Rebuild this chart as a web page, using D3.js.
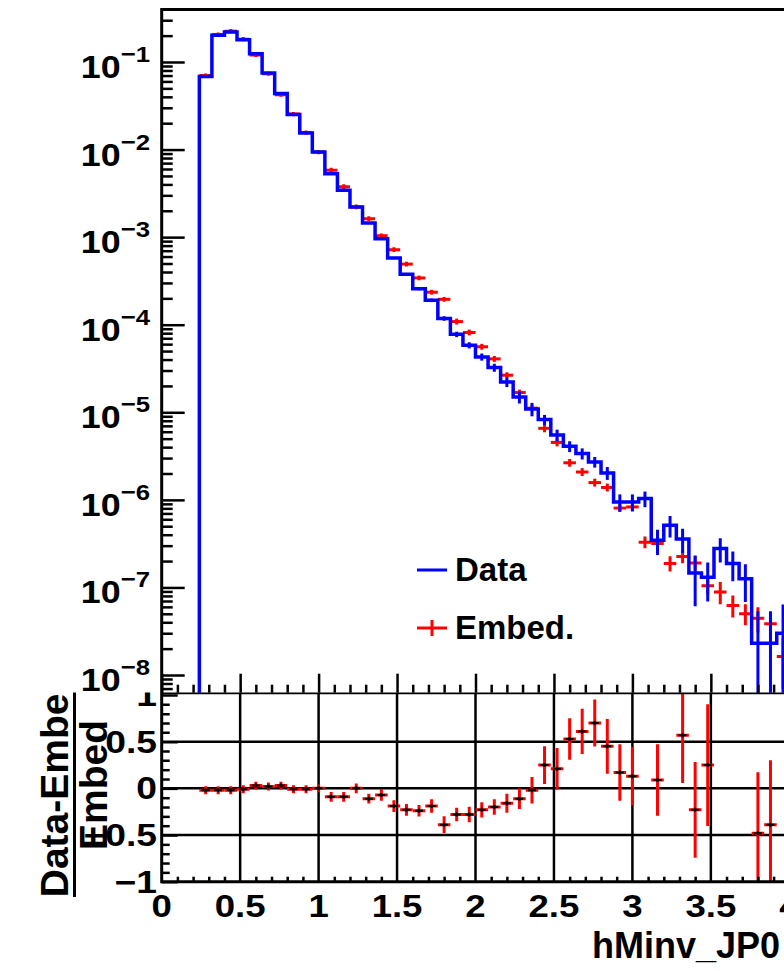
<!DOCTYPE html>
<html>
<head>
<meta charset="utf-8">
<script src="https://cdn.jsdelivr.net/npm/d3@7"></script>
<style>
  html, body { margin: 0; padding: 0; background: #fff; overflow: hidden; }
  text { font-family: "Liberation Sans", Arial, Helvetica, sans-serif; font-weight: bold; fill: #000; }
</style>
</head>
<body>
<svg id="chart" width="784" height="971"></svg>
<script>
// Invariant-mass histogram binning: 0.08 wide bins, first filled bin starts at 0.24
const binStart = 0.24;
const binWidth = 0.08;

// Data (blue step histogram), per bin
const dataVals = [
  0.0685, 0.2017, 0.2203, 0.180, 0.1245, 0.0749, 0.0436, 0.0251, 0.01543, 0.00936,
  0.00529, 0.00343, 0.00221, 0.001446, 0.00096, 5.79e-4, 3.77e-4, 2.58e-4, 1.90e-4, 1.18e-4,
  7.77e-5, 5.83e-5, 4.29e-5, 3.24e-5, 2.22e-5, 1.49e-5, 1.09e-5, 8.25e-6, 5.50e-6, 4.09e-6,
  3.38e-6, 2.71e-6, 2.03e-6, 9.44e-7, 9.44e-7, 1.034e-6, 3.45e-7, 5.14e-7, 3.57e-7, 1.46e-7,
  1.31e-7, 2.78e-7, 1.88e-7, 1.26e-7, 2.31e-8, 2.31e-8, 2.99e-8
];
const dataErr = [
  4e-4, 7e-4, 7e-4, 6e-4, 5e-4, 4e-4, 3e-4, 2e-4, 1.4e-4, 1e-4,
  5.7e-5, 4.2e-5, 3.2e-5, 2.6e-5, 2.0e-5, 1.5e-5, 1.3e-5, 1.07e-5, 8.9e-6, 7e-6,
  5.5e-6, 4.7e-6, 4.0e-6, 3.4e-6, 2.8e-6, 2.3e-6, 1.9e-6, 1.08e-6, 8.3e-7, 5.8e-7,
  4.9e-7, 3.75e-7, 3.4e-7, 2.1e-7, 2.1e-7, 2.1e-7, 1.1e-7, 1.42e-7, 1.1e-7, 8.5e-8,
  6.2e-8, 8.6e-8, 7e-8, 5.8e-8, 3.05e-8, 3.05e-8, 3.4e-8
];

// Embedding (red points with error bars), per bin
const embedVals = [
  0.0699, 0.2059, 0.2245, 0.1821, 0.1204, 0.0734, 0.0423, 0.0254, 0.01563, 0.00936,
  0.00582, 0.00377, 0.00221, 0.001625, 0.001034, 7.18e-4, 4.92e-4, 3.42e-4, 2.35e-4, 1.95e-4,
  1.086e-4, 8.15e-5, 5.60e-5, 4.07e-5, 2.65e-5, 1.68e-5, 1.115e-5, 6.56e-6, 4.53e-6, 2.65e-6,
  2.08e-6, 1.575e-6, 1.385e-6, 8.05e-7, 8.30e-7, 3.29e-7, 3.17e-7, 1.88e-7, 2.26e-7, 1.90e-7,
  1.044e-7, 8.87e-8, 6.23e-8, 4.99e-8, 4.45e-8, 3.84e-8, 1.63e-8
];
const embedErr = [
  2e-4, 6e-4, 7e-4, 5e-4, 4e-4, 2e-4, 1.3e-4, 8e-5, 5e-5, 3e-5,
  5.7e-5, 3.8e-5, 2.2e-5, 1.66e-5, 1.0e-5, 7.3e-6, 5e-6, 3.4e-6, 2.3e-6, 1.95e-6,
  2.7e-6, 2.0e-6, 1.38e-6, 1.03e-6, 6.8e-7, 4.2e-7, 2.8e-7, 3.3e-7, 2.3e-7, 1.3e-7,
  1.06e-7, 8.1e-8, 7.2e-8, 4.0e-8, 4.1e-8, 3.3e-8, 3.1e-8, 2.8e-8, 2.7e-8, 2.5e-8,
  1.7e-8, 2.1e-8, 1.45e-8, 1.1e-8, 1.2e-8, 1.1e-8, 9e-9
];

// (Data - Embed)/Embed, per bin (null where no point falls inside the panel)
const ratioVals = [
  -0.02, -0.02, -0.02, -0.01, 0.03, 0.02, 0.03, -0.01, -0.01, 0.00,
  -0.09, -0.09, 0.00, -0.11, -0.07, -0.19, -0.23, -0.24, -0.19, -0.39,
  -0.28, -0.28, -0.23, -0.20, -0.16, -0.11, -0.02, 0.25, 0.21, 0.53,
  0.61, 0.70, 0.45, 0.17, 0.13, null, 0.09, null, 0.57, -0.23,
  0.25, null, null, null, -0.48, -0.39, null
];
const ratioErr = [
  0.01, 0.01, 0.01, 0.01, 0.01, 0.01, 0.01, 0.01, 0.01, 0.01,
  0.02, 0.02, 0.02, 0.02, 0.03, 0.03, 0.03, 0.03, 0.04, 0.06,
  0.04, 0.05, 0.05, 0.05, 0.07, 0.08, 0.11, 0.17, 0.19, 0.19,
  0.21, 0.22, 0.26, 0.27, 0.28, null, 0.35, null, 0.48, 0.48,
  0.62, null, null, null, 0.62, 0.66, null
];

// Axis ticks and labels
const logMajorExp = [-1, -2, -3, -4, -5, -6, -7, -8];
const xMajor = [0, 0.5, 1, 1.5, 2, 2.5, 3, 3.5, 4];
const xMajorLabels = ["0", "0.5", "1", "1.5", "2", "2.5", "3", "3.5", "4"];
const ratioMajor = [1, 0.5, 0, -0.5, -1];
const ratioLabels = ["1", "0.5", "0", "\u22120.5", "\u22121"];
const ratioGrid = [0.5, 0, -0.5];
const legendLabels = ["Data", "Embed."];
const ratioTitleNum = "Data-Embed";
const ratioTitleDen = "Embed";
const xTitle = "hMinv_JP0";

const BLUE = "#0000ff", RED = "#ff0000";

const svg = d3.select("#chart");
svg.append("rect").attr("width", 784).attr("height", 971).attr("fill", "#fff");

// Scales
const x = d3.scaleLinear().domain([0, 4]).range([161.7, 789.3]);
const yTop = d3.scaleLog().domain([6.28e-9, 0.3975]).range([692.7, 9.5]);
const yRat = d3.scaleLinear().domain([-1, 1.025]).range([881.7, 692.7]);

const bins = dataVals.map((v, i) => {
  const lo = binStart + i * binWidth;
  return { lo, hi: lo + binWidth, c: lo + binWidth / 2,
           d: v, de: dataErr[i], e: embedVals[i], ee: embedErr[i],
           r: ratioVals[i], re: ratioErr[i] };
});

const defs = svg.append("defs");
defs.append("clipPath").attr("id", "clipTop").append("rect")
  .attr("x", x(0)).attr("y", yTop.range()[1]).attr("width", 800).attr("height", yTop.range()[0] - yTop.range()[1]);
defs.append("clipPath").attr("id", "clipRat").append("rect")
  .attr("x", x(0)).attr("y", yRat.range()[1]).attr("width", 800).attr("height", yRat.range()[0] - yRat.range()[1]);
defs.append("clipPath").attr("id", "clipLowerPad").append("rect")
  .attr("x", 0).attr("y", 692.5).attr("width", 784).attr("height", 300);

const yFloor = v => (v > yTop.domain()[0] ? yTop(v) : yTop.range()[0] + 10);

// ---------- Upper pad ----------
const upperPad = svg.append("g");
const plotTop = upperPad.append("g").attr("clip-path", "url(#clipTop)");

// Embed: red error crosses
const redG = plotTop.append("g").attr("stroke", RED).attr("stroke-width", 3).attr("fill", "none");
bins.forEach(b => {
  redG.append("line").attr("x1", x(b.lo)).attr("x2", x(b.hi)).attr("y1", yTop(b.e)).attr("y2", yTop(b.e));
  redG.append("line").attr("x1", x(b.c)).attr("x2", x(b.c))
    .attr("y1", yTop(b.e + b.ee) - 2).attr("y2", yFloor(b.e - b.ee) + 2);
});

// Data: blue step histogram
const stepPts = [[bins[0].lo, null]];
bins.forEach(b => { stepPts.push([b.lo, b.d]); stepPts.push([b.hi, b.d]); });
const stepLine = d3.line().x(p => x(p[0])).y(p => p[1] === null ? yTop.range()[0] + 10 : yFloor(p[1]));
plotTop.append("path").attr("d", stepLine(stepPts))
  .attr("fill", "none").attr("stroke", BLUE).attr("stroke-width", 3.5).attr("stroke-linejoin", "miter");
const blueErr = plotTop.append("g").attr("stroke", BLUE).attr("stroke-width", 3);
bins.forEach(b => {
  blueErr.append("line").attr("x1", x(b.c)).attr("x2", x(b.c))
    .attr("y1", yTop(b.d + b.de)).attr("y2", yFloor(b.d - b.de));
});

// Upper frame
upperPad.append("path")
  .attr("d", `M${x(0)},${yTop.range()[0]}V${yTop.range()[1]}H${x(4) + 20}`)
  .attr("fill", "none").attr("stroke", "#000").attr("stroke-width", 3);

// Log y axis ticks (inside the frame)
const logMinor = [];
[0, ...logMajorExp].forEach(n => {
  for (let m = 2; m <= 9; m++) {
    const v = m * Math.pow(10, n - 1);
    if (v < yTop.domain()[1] && v > yTop.domain()[0]) logMinor.push(v);
  }
});
const majorVals = logMajorExp.map(n => Math.pow(10, n));
const axMaj = upperPad.append("g").attr("transform", `translate(${x(0)},0)`)
  .call(d3.axisRight(yTop).tickValues(majorVals).tickSize(23).tickFormat(""));
const axMin = upperPad.append("g").attr("transform", `translate(${x(0)},0)`)
  .call(d3.axisRight(yTop).tickValues(logMinor).tickSize(11).tickFormat(""));
[axMaj, axMin].forEach(g => {
  g.select(".domain").remove();
  g.selectAll("line").attr("stroke", "#000").attr("stroke-width", 2.5);
});

// Log labels 10^n
logMajorExp.forEach(n => {
  const t = upperPad.append("text")
    .attr("transform", `translate(150,${yTop(Math.pow(10, n)) + 16}) scale(1.12,1)`)
    .attr("text-anchor", "end");
  t.append("tspan").attr("font-size", 32).text("10");
  t.append("tspan").attr("font-size", 23).attr("dy", -16).text("\u2212" + Math.abs(n));
});

// Upper pad x ticks along the bottom edge (pointing up)
const xMinor = d3.range(0, 41).map(i => i / 10).filter(v => Math.abs(v * 2 - Math.round(v * 2)) > 1e-6);
const topXMaj = upperPad.append("g").attr("transform", `translate(0,${yTop.range()[0]})`)
  .call(d3.axisTop(x).tickValues(xMajor).tickSize(19).tickFormat(""));
const topXMin = upperPad.append("g").attr("transform", `translate(0,${yTop.range()[0]})`)
  .call(d3.axisTop(x).tickValues(xMinor).tickSize(8).tickFormat(""));
[topXMaj, topXMin].forEach(g => {
  g.select(".domain").remove();
  g.selectAll("line").attr("stroke", "#000").attr("stroke-width", 2.5);
});

// Legend
const leg = upperPad.append("g");
leg.append("line").attr("x1", 417).attr("x2", 447).attr("y1", 570).attr("y2", 570)
  .attr("stroke", BLUE).attr("stroke-width", 3);
leg.append("line").attr("x1", 417).attr("x2", 447).attr("y1", 628).attr("y2", 628)
  .attr("stroke", RED).attr("stroke-width", 3);
leg.append("line").attr("x1", 432).attr("x2", 432).attr("y1", 620).attr("y2", 636)
  .attr("stroke", RED).attr("stroke-width", 3);
leg.append("text").attr("x", 455).attr("y", 581).attr("font-size", 33).text(legendLabels[0]);
leg.append("text").attr("x", 455).attr("y", 639).attr("font-size", 33).text(legendLabels[1]);

// ---------- Lower pad ----------
const low = svg.append("g").attr("clip-path", "url(#clipLowerPad)");

// Grid
const grid = low.append("g").attr("stroke", "#000").attr("stroke-width", 2.5);
xMajor.filter(v => v > 0).forEach(v => {
  grid.append("line").attr("x1", x(v)).attr("x2", x(v)).attr("y1", yRat.range()[0]).attr("y2", yRat.range()[1]);
});
ratioGrid.forEach(v => {
  grid.append("line").attr("x1", x(0)).attr("x2", x(4) + 20).attr("y1", yRat(v)).attr("y2", yRat(v));
});

// Ratio points
const ratG = low.append("g").attr("clip-path", "url(#clipRat)");
bins.filter(b => b.r !== null).forEach(b => {
  ratG.append("line").attr("x1", x(b.lo)).attr("x2", x(b.hi)).attr("y1", yRat(b.r)).attr("y2", yRat(b.r))
    .attr("stroke", RED).attr("stroke-width", 3);
  ratG.append("line").attr("x1", x(b.c)).attr("x2", x(b.c))
    .attr("y1", yRat(b.r + b.re) - 3).attr("y2", yRat(b.r - b.re) + 3)
    .attr("stroke", RED).attr("stroke-width", 3);
  ratG.append("path")
    .attr("d", `M${x(b.c) - 4},${yRat(b.r)}H${x(b.c) + 4}M${x(b.c)},${yRat(b.r) - 2}V${yRat(b.r) + 2}`)
    .attr("stroke", "#000").attr("stroke-width", 2);
});

// Lower frame
low.append("path")
  .attr("d", `M${x(4) + 20},${yRat.range()[1]}H${x(0)}V${yRat.range()[0]}H${x(4) + 20}`)
  .attr("fill", "none").attr("stroke", "#000").attr("stroke-width", 3);

// Ratio y ticks
const ratMinor = d3.range(-10, 11).map(i => i / 10).filter(v => Math.abs(v * 2 - Math.round(v * 2)) > 1e-6);
const rAxMin = low.append("g").attr("transform", `translate(${x(0)},0)`)
  .call(d3.axisRight(yRat).tickValues(ratMinor).tickSize(8).tickFormat(""));
const rAxMaj = low.append("g").attr("transform", `translate(${x(0)},0)`)
  .call(d3.axisRight(yRat).tickValues(ratioMajor).tickSize(16).tickFormat(""));
[rAxMin, rAxMaj].forEach(g => {
  g.select(".domain").remove();
  g.selectAll("line").attr("stroke", "#000").attr("stroke-width", 2.5);
});

// Ratio x ticks along the bottom (pointing up)
const bXMin = low.append("g").attr("transform", `translate(0,${yRat.range()[0]})`)
  .call(d3.axisTop(x).tickValues(xMinor).tickSize(5).tickFormat(""));
bXMin.select(".domain").remove();
bXMin.selectAll("line").attr("stroke", "#000").attr("stroke-width", 2.5);

// Ratio y labels
ratioMajor.forEach((v, i) => {
  low.append("text")
    .attr("transform", `translate(157,${yRat(v) + 11}) scale(1.2,1)`)
    .attr("text-anchor", "end").attr("font-size", 31).text(ratioLabels[i]);
});

// Ratio y title as a fraction
const titleG = low.append("g");
titleG.append("text").attr("transform", `translate(68,783.5) rotate(-90)`)
  .attr("text-anchor", "middle").attr("font-size", 39).text(ratioTitleNum);
titleG.append("line").attr("x1", 74.5).attr("x2", 74.5).attr("y1", 675).attr("y2", 897)
  .attr("stroke", "#000").attr("stroke-width", 3);
titleG.append("text").attr("transform", `translate(107,785) rotate(-90)`)
  .attr("text-anchor", "middle").attr("font-size", 39).text(ratioTitleDen);

// X labels and title
xMajor.forEach((v, i) => {
  svg.append("text").attr("transform", `translate(${x(v)},917) scale(1.18,1)`)
    .attr("text-anchor", "middle").attr("font-size", 31).text(xMajorLabels[i]);
});
svg.append("text").attr("x", 592).attr("y", 958).attr("font-size", 36).text(xTitle);
</script>
</body>
</html>
